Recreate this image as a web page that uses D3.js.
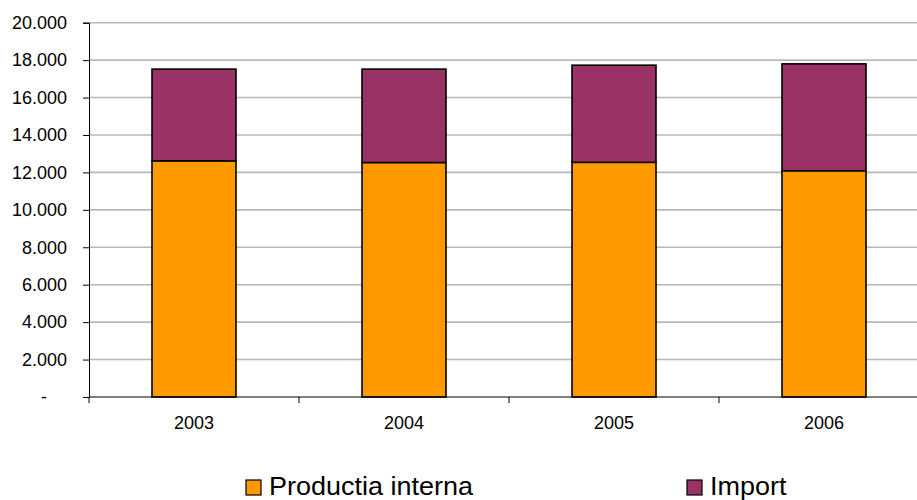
<html>
<head>
  <meta charset="utf-8"/>
  <title>Productie si import</title>
  <style>
    body { margin: 0; background: #fff; }
    svg text { font-family: "Liberation Sans", Arial, sans-serif; fill: #000; }
  </style>
</head>
<body>
  <div id="chart"></div>
  <script src="https://d3js.org/d3.v7.min.js"></script>
  <script>

  // data
  var years = ["2003", "2004", "2005", "2006"];
  var productie = [12620, 12530, 12540, 12090];
  var importuri = [4900, 4990, 5190, 5710];
  var yTicks = [0, 2000, 4000, 6000, 8000, 10000, 12000, 14000, 16000, 18000, 20000];
  var seriesNames = ["Productia interna", "Import"];
  var colors = ["#ff9900", "#993366"];

  var W = 917, H = 500;
  var plotLeft = 89, plotTop = 22.7, plotBottom = 397;

  var svg = d3.select("#chart").append("svg")
    .attr("width", W)
    .attr("height", H);

  var x = d3.scaleBand()
    .domain(years)
    .range([plotLeft, plotLeft + 4 * 210])
    .paddingInner(0.6)
    .paddingOuter(0.3);

  var y = d3.scaleLinear()
    .domain([0, 20000])
    .range([plotBottom, plotTop]);

  //gridlines:
  svg.append("g")
    .selectAll("line")
    .data(yTicks.slice(1))
    .enter().append("line")
    .attr("x1", plotLeft)
    .attr("x2", W)
    .attr("y1", function(d){ return y(d); })
    .attr("y2", function(d){ return y(d); })
    .attr("stroke", "#b8b8b8")
    .attr("stroke-width", 1.6);

  //y axis:
  var yAxis = svg.append("g")
    .attr("transform", "translate(" + plotLeft + ",0)")
    .call(d3.axisLeft(y)
      .tickValues(yTicks)
      .tickSize(6)
      .tickPadding(16)
      .tickFormat(function(d){
        if(d == 0) return "-";
        return d3.format(",")(d).replace(/,/g, ".");
      }));
  yAxis.select(".domain").attr("stroke", "#000");
  yAxis.selectAll(".tick line").attr("stroke", "#000");
  yAxis.selectAll("text")
    .style("font-size", "18px")
    .attr("dx", function(d){ return d == 0 ? -20 : 0; });

  //stacked bars:
  var stack = years.map(function(yr, i){
    return [
      {y0: 0, y1: productie[i], c: colors[0], yr: yr},
      {y0: productie[i], y1: productie[i] + importuri[i], c: colors[1], yr: yr}
    ];
  });

  svg.append("g")
    .selectAll("g")
    .data(stack)
    .enter().append("g")
    .selectAll("rect")
    .data(function(d){ return d; })
    .enter().append("rect")
    .attr("x", function(d){ return x(d.yr); })
    .attr("width", x.bandwidth())
    .attr("y", function(d){ return y(d.y1); })
    .attr("height", function(d){ return y(d.y0) - y(d.y1); })
    .attr("fill", function(d){ return d.c; })
    .attr("stroke", "#000")
    .attr("stroke-width", 1.6);

  //x axis:
  var xAxis = svg.append("g")
    .attr("transform", "translate(0," + plotBottom + ")")
    .call(d3.axisBottom(x).tickSize(0).tickPadding(19));
  xAxis.select(".domain").remove();
  xAxis.selectAll("text").style("font-size", "18px");

  svg.append("line")
    .attr("x1", plotLeft).attr("x2", W)
    .attr("y1", plotBottom).attr("y2", plotBottom)
    .attr("stroke", "#000");

  var gap = (x.step() - x.bandwidth()) / 2;
  var bounds = years.map(function(d){ return x(d) - gap; });
  svg.append("g")
    .selectAll("line")
    .data(bounds)
    .enter().append("line")
    .attr("x1", function(d){ return d; })
    .attr("x2", function(d){ return d; })
    .attr("y1", plotBottom)
    .attr("y2", plotBottom + 6)
    .attr("stroke", "#000");

  //legend:
  var legX = [246, 687];
  var leg = svg.append("g")
    .selectAll("g")
    .data(seriesNames)
    .enter().append("g")
    .attr("transform", function(d, i){ return "translate(" + legX[i] + ",480)"; });
  leg.append("rect")
    .attr("width", 15)
    .attr("height", 15)
    .attr("fill", function(d, i){ return colors[i]; })
    .attr("stroke", "#000")
    .attr("stroke-width", 1.2);
  // text in the picture is a bit wider than the font, stretch it
  leg.append("text")
    .attr("transform", "translate(23,15) scale(1.08,1)")
    .style("font-size", "25px")
    .text(function(d){ return d; });

  </script>
</body>
</html>
